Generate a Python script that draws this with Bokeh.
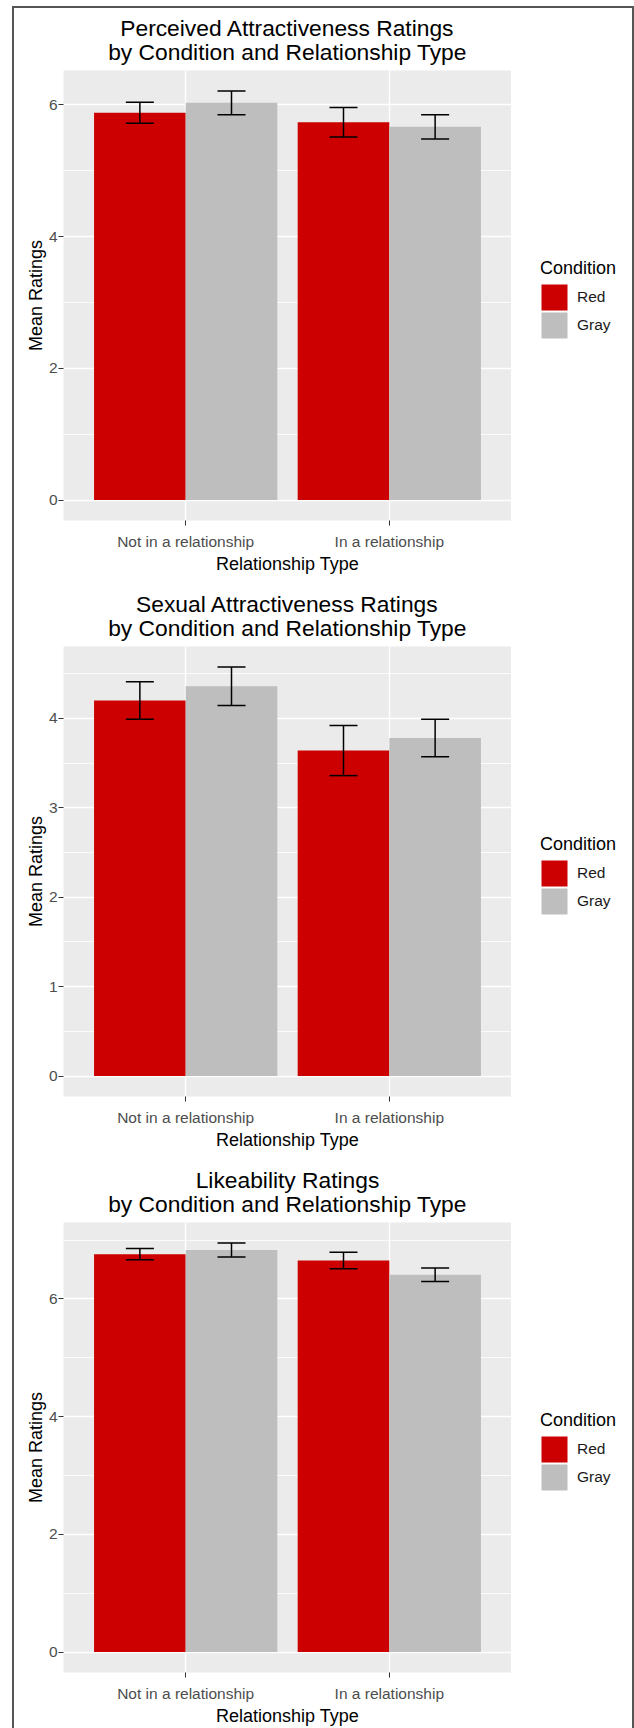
from bokeh.plotting import figure
from bokeh.models import (ColumnDataSource, FixedTicker, Range1d, Whisker, TeeHead,
                          Legend, LegendItem)
from bokeh.layouts import column, row
from bokeh.core.properties import value
from bokeh.transform import dodge
from bokeh.embed import file_html
from bokeh.resources import INLINE

# ---- data -------------------------------------------------------------
relationship = ["Not in a relationship", "In a relationship"]
conditions = ["Red", "Gray"]
condition_colors = ["#CC0000", "#BEBEBE"]

perceived_red = [5.88, 5.735]
perceived_gray = [6.03, 5.665]
perceived_red_se = [0.16, 0.225]
perceived_gray_se = [0.18, 0.185]

sexual_red = [4.20, 3.64]
sexual_gray = [4.36, 3.78]
sexual_red_se = [0.21, 0.28]
sexual_gray_se = [0.215, 0.21]

like_red = [6.76, 6.65]
like_gray = [6.83, 6.41]
like_red_se = [0.095, 0.14]
like_gray_se = [0.12, 0.115]

perceived_ticks = [0, 2, 4, 6]
perceived_minor = [1, 3, 5]
sexual_ticks = [0, 1, 2, 3, 4]
sexual_minor = [0.5, 1.5, 2.5, 3.5, 4.5]
like_ticks = [0, 2, 4, 6]
like_minor = [1, 3, 5, 7]

FONT = "Liberation Sans"
PANEL_BG = "#EBEBEB"
MAIN_W = 497
LEFT = 49
LEGEND_W = 121
BOTTOM = 51
NAN = float("nan")


def title_box(lines, height, x_range):
    """Two title lines centred over the plotting area (shares its x range)."""
    t = figure(width=MAIN_W, height=height, output_backend="svg", toolbar_location=None,
               x_range=x_range, y_range=Range1d(0, height),
               x_axis_location=None, y_axis_location=None,
               min_border_left=LEFT, min_border_right=0, min_border_top=0,
               min_border_bottom=0,
               background_fill_color="white", border_fill_color="white")
    t.outline_line_color = None
    t.grid.visible = False
    centre = (x_range.start + x_range.end) / 2
    src = ColumnDataSource(dict(x=[centre, centre], y=[42.5, 18.5], text=lines))
    t.text(x="x", y="y", text="text", source=src, text_align="center",
           text_baseline="middle", text_font=value(FONT), text_font_size="22.8px",
           text_color="#000000")
    return t


def legend_box(height, top):
    """Narrow companion figure that only carries the Condition legend."""
    q = figure(width=LEGEND_W, height=height, output_backend="svg", toolbar_location=None,
               x_range=Range1d(0, 1), y_range=Range1d(0, 1),
               min_border_left=0, min_border_right=0,
               min_border_top=top, min_border_bottom=BOTTOM,
               background_fill_color="white", border_fill_color="white")
    q.outline_line_color = None
    q.axis.visible = False
    q.grid.visible = False
    items = []
    for name, color in zip(conditions, condition_colors):
        # key-only renderer: its single row has no position, so nothing is plotted
        src = ColumnDataSource(dict(x=[NAN], top=[NAN]))
        r = q.vbar(x="x", top="top", width=0.45, source=src, fill_color=color,
                   line_color=color, line_width=3.6, line_join="miter")
        items.append(LegendItem(label=name, renderers=[r]))
    leg = Legend(items=items, title="Condition", location=(29, 186), margin=0,
                 glyph_width=28, glyph_height=28, spacing=0, padding=10,
                 label_standoff=9, title_standoff=4,
                 border_line_color=None, background_fill_alpha=0,
                 title_text_font=FONT, title_text_font_size="18px",
                 title_text_font_style="normal", title_text_color="#000000",
                 label_text_font=FONT, label_text_font_size="15.5px",
                 label_text_color="#1A1A1A")
    q.add_layout(leg)
    return q


def make_panel(title_lines, red, gray, red_se, gray_se, ticks, minor, height, top):
    xs = list(range(1, len(relationship) + 1))
    upper_all = [m + s for m, s in zip(red + gray, red_se + gray_se)]
    ymax = max(upper_all)

    p = figure(width=MAIN_W, height=height - top, output_backend="svg",
               toolbar_location=None,
               x_range=Range1d(0.4, len(relationship) + 0.6),
               y_range=Range1d(-0.05 * ymax, 1.05 * ymax),
               min_border_left=LEFT, min_border_right=0,
               min_border_top=0, min_border_bottom=BOTTOM,
               background_fill_color=PANEL_BG, border_fill_color="white")
    p.outline_line_color = None

    # grid
    p.xgrid.ticker = FixedTicker(ticks=xs)
    p.xgrid.grid_line_color = "white"
    p.xgrid.grid_line_width = 1.4
    p.ygrid.ticker = FixedTicker(ticks=ticks, minor_ticks=minor)
    p.ygrid.grid_line_color = "white"
    p.ygrid.grid_line_width = 1.4
    p.ygrid.minor_grid_line_color = "white"
    p.ygrid.minor_grid_line_width = 0.8

    # axes
    p.xaxis.ticker = FixedTicker(ticks=xs)
    p.xaxis.major_label_overrides = {x: lab for x, lab in zip(xs, relationship)}
    p.xaxis.axis_label = "Relationship Type"
    p.yaxis.ticker = FixedTicker(ticks=ticks, minor_ticks=minor)
    p.yaxis.axis_label = "Mean Ratings"
    for ax in (p.xaxis, p.yaxis):
        ax.axis_line_color = None
        ax.major_tick_line_color = "#333333"
        ax.major_tick_line_width = 1
        ax.major_tick_in = 0
        ax.major_tick_out = 5
        ax.minor_tick_line_color = None
        ax.major_label_text_font = FONT
        ax.major_label_text_font_size = "15.5px"
        ax.major_label_text_color = "#4D4D4D"
        ax.axis_label_text_font = FONT
        ax.axis_label_text_font_size = "18px"
        ax.axis_label_text_font_style = "normal"
        ax.axis_label_text_color = "#000000"
    p.xaxis.major_label_standoff = 7
    p.xaxis.axis_label_standoff = 1
    p.yaxis.major_label_standoff = 1
    p.yaxis.axis_label_standoff = 0

    # bars + error bars
    offsets = [-0.225, 0.225]
    for means, ses, off, color in zip([red, gray], [red_se, gray_se], offsets, condition_colors):
        src = ColumnDataSource(dict(
            x=xs, mean=means,
            lower=[m - s for m, s in zip(means, ses)],
            upper=[m + s for m, s in zip(means, ses)],
        ))
        p.vbar(x=dodge("x", off, range=p.x_range), top="mean", bottom=0, width=0.45,
               source=src, fill_color=color, line_color=None)
        w = Whisker(base=dodge("x", off, range=p.x_range), lower="lower", upper="upper",
                    source=src, line_color="black", line_width=1.5, level="annotation",
                    upper_head=TeeHead(size=28, line_color="black", line_width=1.5),
                    lower_head=TeeHead(size=28, line_color="black", line_width=1.5))
        p.add_layout(w)

    left_block = column(title_box(title_lines, top, p.x_range), p, spacing=0)
    return row(left_block, legend_box(height, top), spacing=0)


f1 = make_panel(["Perceived Attractiveness Ratings", "by Condition and Relationship Type"],
                perceived_red, perceived_gray, perceived_red_se, perceived_gray_se,
                perceived_ticks, perceived_minor, 568, 62)
f2 = make_panel(["Sexual Attractiveness Ratings", "by Condition and Relationship Type"],
                sexual_red, sexual_gray, sexual_red_se, sexual_gray_se,
                sexual_ticks, sexual_minor, 576, 70)
f3 = make_panel(["Likeability Ratings", "by Condition and Relationship Type"],
                like_red, like_gray, like_red_se, like_gray_se,
                like_ticks, like_minor, 576, 70)

page = column(f1, f2, f3, spacing=0,
              styles={"margin-left": "12px", "margin-top": "6px",
                      "border-left": "2px solid #555555",
                      "border-top": "2px solid #555555",
                      "border-right": "2px solid #555555"})

open("out.html", "w").write(file_html(page, INLINE))
